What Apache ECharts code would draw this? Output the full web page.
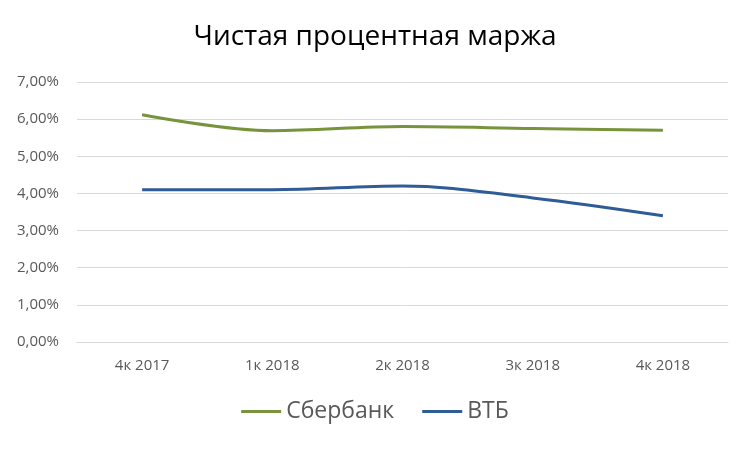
<!DOCTYPE html>
<html><head><meta charset="utf-8">
<script src="https://cdn.jsdelivr.net/npm/echarts@6/dist/echarts.min.js"></script>
<style>html,body{margin:0;padding:0;background:#fff}#c{width:750px;height:450px}</style>
</head><body><div id="c"></div>
<script>
const categories = ['4к 2017','1к 2018','2к 2018','3к 2018','4к 2018'];
const sberbank = [6.12, 5.69, 5.80, 5.75, 5.70];
const vtb = [4.10, 4.10, 4.20, 3.88, 3.40];
const yTicks = [0,1,2,3,4,5,6,7];
const fmt = v => v.toFixed(2).replace('.', ',') + '%';
const chart = echarts.init(document.getElementById('c'));
chart.setOption({
  animation: false,
  title: { text: 'Чистая процентная маржа', left: 'center', top: 18,
    textStyle: { fontFamily: 'Open Sans', fontWeight: 'normal', fontSize: 28, color: '#000' } },
  grid: { left: 77, right: 22, top: 82, bottom: 108 },
  legend: { bottom: 22, itemWidth: 40, itemHeight: 3, itemGap: 28, icon: 'rect',
    textStyle: { fontFamily: 'Open Sans', fontSize: 23, color: '#595959' },
    data: ['Сбербанк','ВТБ'] },
  xAxis: { type: 'category', data: categories, boundaryGap: true,
    axisLine: { lineStyle: { color: '#d9d9d9' } }, axisTick: { show: false },
    axisLabel: { color: '#595959', fontFamily: 'Open Sans', fontSize: 15, margin: 16 } },
  yAxis: { type: 'value', min: yTicks[0], max: yTicks[yTicks.length-1], interval: 1,
    axisLine: { show: false }, axisTick: { show: false },
    splitLine: { lineStyle: { color: '#d9d9d9' } },
    axisLabel: { color: '#595959', fontFamily: 'Open Sans', fontSize: 15, margin: 18, formatter: v => fmt(v) } },
  series: [
    { name: 'Сбербанк', type: 'line', data: sberbank, smooth: 0.35, symbol: 'none',
      lineStyle: { width: 3, color: '#77933c' }, itemStyle: { color: '#77933c' } },
    { name: 'ВТБ', type: 'line', data: vtb, smooth: 0.35, symbol: 'none',
      lineStyle: { width: 3, color: '#2f5b97' }, itemStyle: { color: '#2f5b97' } }
  ]
});
</script></body></html>
